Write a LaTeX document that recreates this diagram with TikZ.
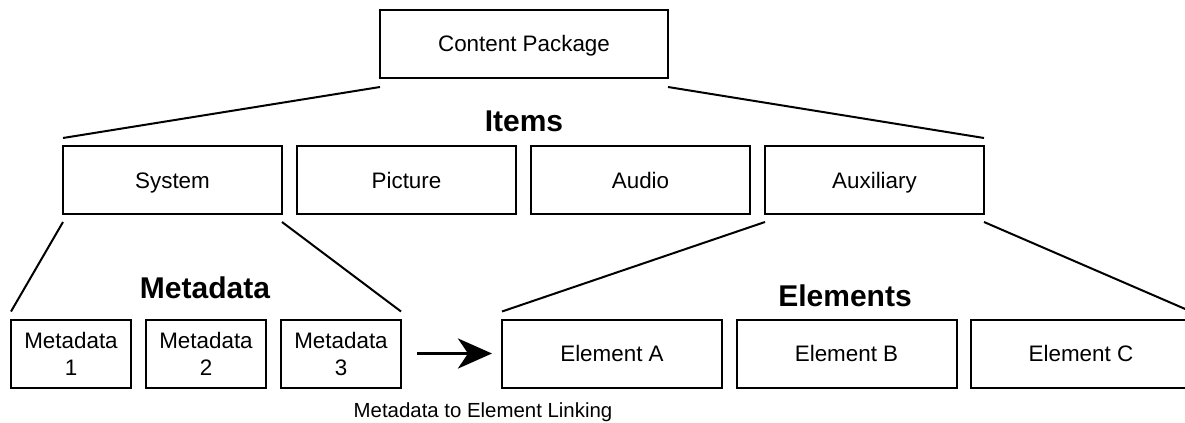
\documentclass[tikz,border=0pt]{standalone}
\usepackage{fontspec}
\setmainfont{Liberation Sans}
\usetikzlibrary{positioning, arrows.meta}

\begin{document}
\begin{tikzpicture}[
        x=0.5pt, y=-0.5pt,
        box/.style={rectangle, draw=black, line width=1pt, outer sep=0pt, inner sep=0pt, minimum width=109.5pt, minimum height=34pt, text height=10pt, text depth=2pt, align=center, font=\fontsize{11.2}{13.5}\selectfont},
        smallbox/.style={box, minimum width=60pt, text height={}, text depth={}},
        heading/.style={font=\fontsize{15}{18}\selectfont\bfseries},
        link/.style={line width=1pt},
        arrow/.style={-{Stealth[length=17pt, width=15pt, inset=5pt]}, line width=1.8pt}
        ]
        \useasboundingbox (0,0) rectangle (1185,423);

        \node[box, minimum width=144pt] (package) at (524,44) {Content Package};
        \node[heading] (items) at (524,121) {Items};

        \node[box] (system) at (172.5,180) {System};
        \node[box, right=7.5pt of system] (picture) {Picture};
        \node[box, right=7.5pt of picture] (audio) {Audio};
        \node[box, right=7.5pt of audio] (auxiliary) {Auxiliary};

        \node[heading] (metadata) at (205,288) {Metadata};
        \node[smallbox] (meta1) at (71,353.5) {Metadata\\1};
        \node[smallbox, right=7.5pt of meta1] (meta2) {Metadata\\2};
        \node[smallbox, right=7.5pt of meta2] (meta3) {Metadata\\3};

        \node[heading] (elements) at (845,296) {Elements};
        \node[box, minimum width=110pt] (elemA) at (612,353.5) {Element A};
        \node[box, minimum width=110pt, right=7.25pt of elemA] (elemB) {Element B};
        \node[box, minimum width=110pt, right=7.25pt of elemB] (elemC) {Element C};

        \node[anchor=base, font=\fontsize{10.2}{12}\selectfont] (linking) at (483,417) {Metadata to Element Linking};

        % tree lines
        \draw[link] ([yshift=-4.5pt]package.south west) -- ([yshift=4pt]system.north west);
        \draw[link] ([yshift=-4.5pt]package.south east) -- ([yshift=4pt]auxiliary.north east);
        \draw[link] ([yshift=-4pt]system.south west) -- ([yshift=4pt]meta1.north west);
        \draw[link] ([yshift=-4pt]system.south east) -- ([yshift=4pt]meta3.north east);
        \draw[link] ([yshift=-4pt]auxiliary.south west) -- ([yshift=4pt]elemA.north west);
        \draw[link] ([yshift=-4pt]auxiliary.south east) -- ([yshift=4pt]elemC.north east);

        \draw[arrow, shorten <=8pt, shorten >=5pt] (meta3) -- (elemA);
    \end{tikzpicture}
\end{document}
